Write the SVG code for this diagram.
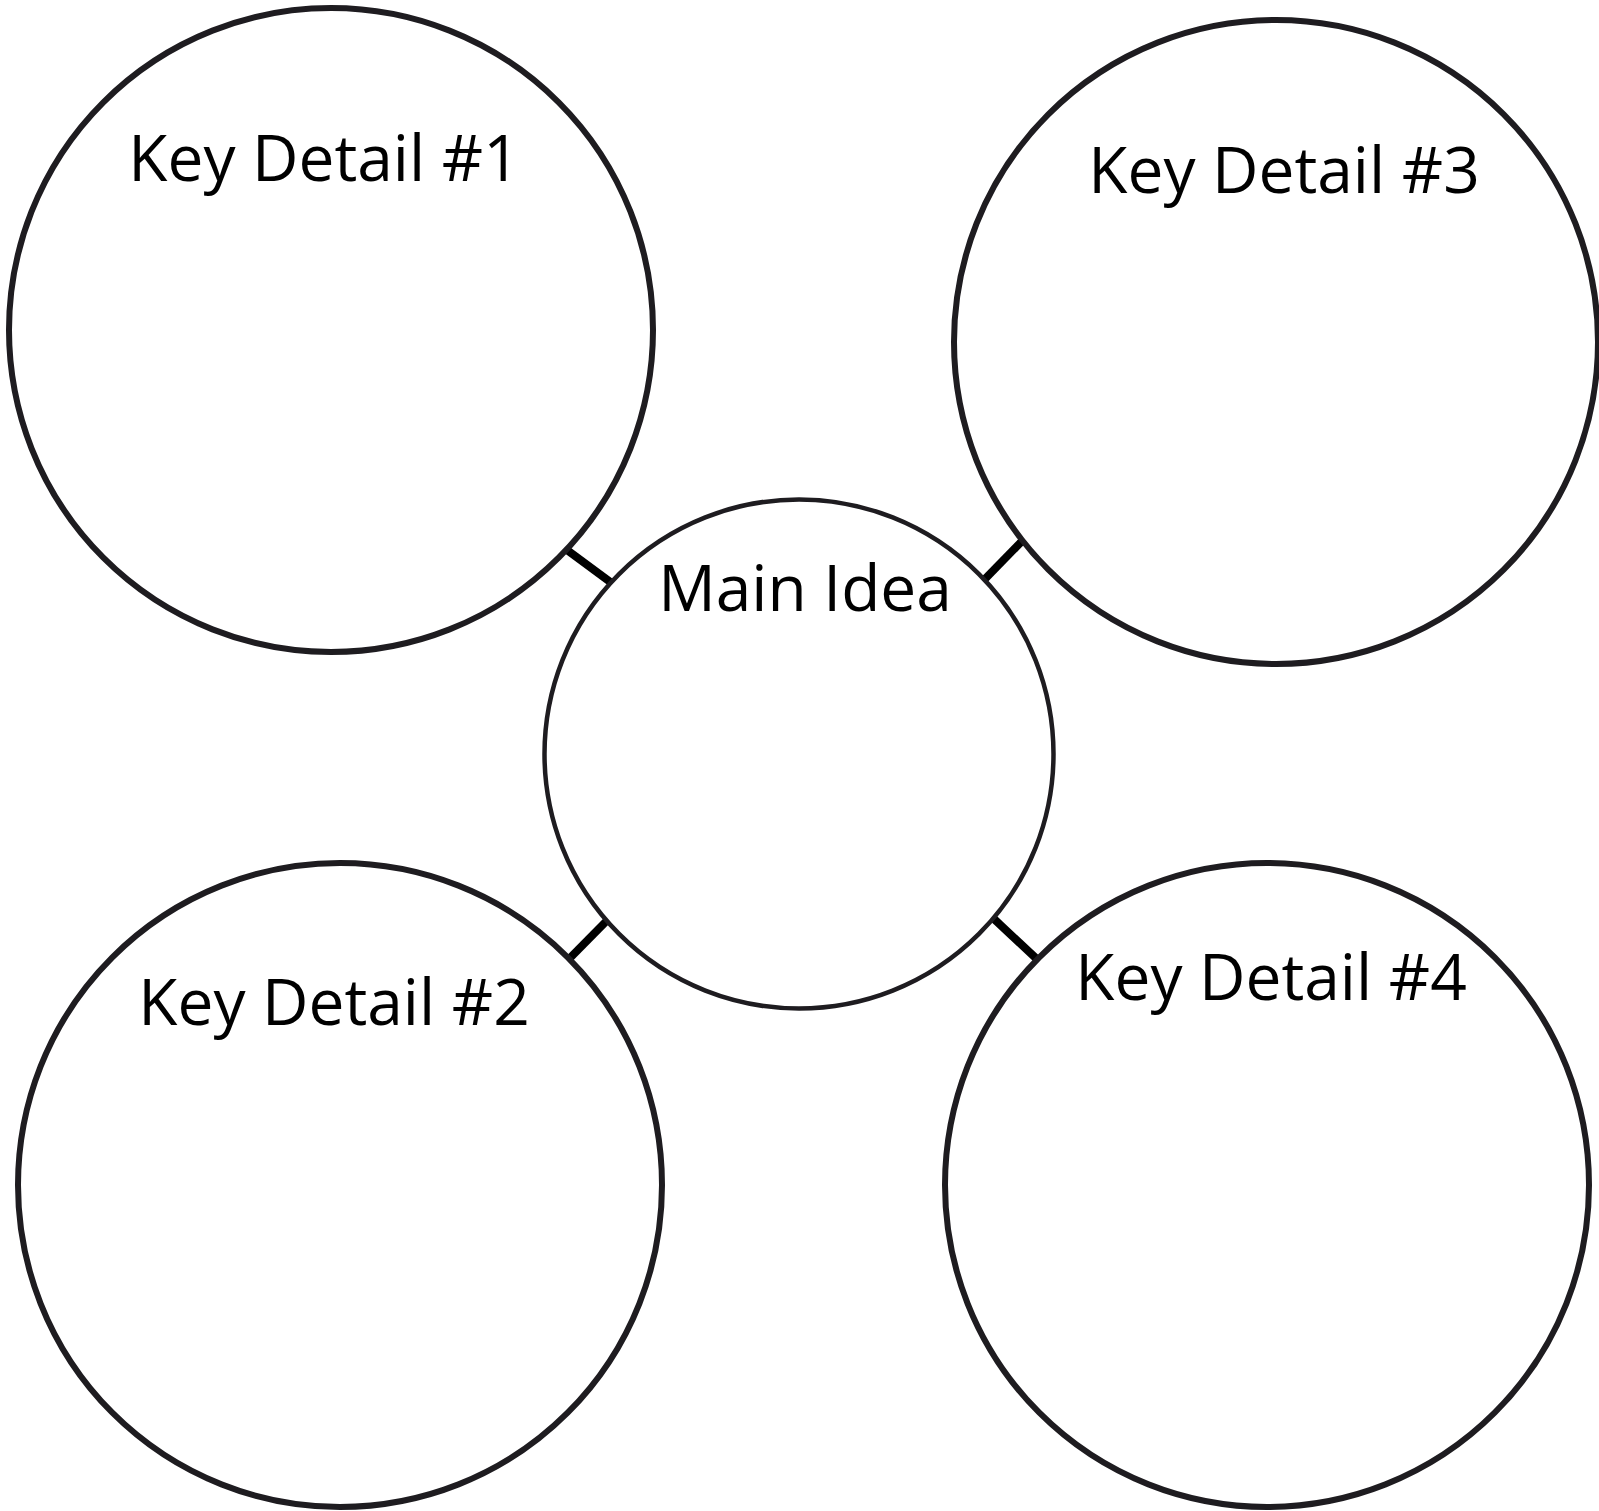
<svg xmlns="http://www.w3.org/2000/svg" width="1599" height="1511" viewBox="0 0 1599 1511">
<style>
.kd{fill:#ffffff;stroke:#1e1c20;stroke-width:6}
.main{fill:#ffffff;stroke:#1e1c20;stroke-width:4.5}
.lbl{font-family:"Open Sans","Noto Sans","Liberation Sans",sans-serif;font-size:64px;fill:#000000;text-anchor:middle}
.conn{stroke:#000000;stroke-width:8;stroke-linecap:butt;fill:none}
</style>
<rect width="1599" height="1511" fill="#ffffff"/>
<g id="connectors">
<line class="conn" x1="567" y1="550" x2="613" y2="584"/>
<line class="conn" x1="1023" y1="540" x2="984" y2="580"/>
<line class="conn" x1="607.5" y1="920" x2="568" y2="960"/>
<line class="conn" x1="993" y1="918" x2="1040" y2="962"/>
</g>
<g id="key-detail-1">
<circle class="kd" cx="331" cy="330" r="322"/>
<text class="lbl" x="324" y="181">Key Detail #1</text>
</g>
<g id="key-detail-3">
<circle class="kd" cx="1276" cy="342" r="322"/>
<text class="lbl" x="1284" y="193">Key Detail #3</text>
</g>
<g id="key-detail-2">
<circle class="kd" cx="340" cy="1185" r="322"/>
<text class="lbl" x="334" y="1025">Key Detail #2</text>
</g>
<g id="key-detail-4">
<circle class="kd" cx="1267" cy="1185" r="322"/>
<text class="lbl" x="1271" y="1000">Key Detail #4</text>
</g>
<g id="main-idea">
<circle class="main" cx="799" cy="754" r="254.5"/>
<text class="lbl" x="805" y="611">Main Idea</text>
</g>
</svg>
